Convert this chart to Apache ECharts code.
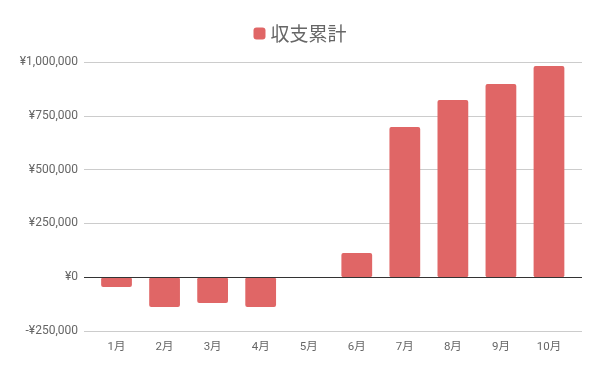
<!DOCTYPE html>
<html><head><meta charset="utf-8">
<script src="https://cdn.jsdelivr.net/npm/echarts@6/dist/echarts.min.js"></script>
<style>html,body{margin:0;padding:0;background:#fff}#c{width:600px;height:371px}</style>
</head><body><div id="c"></div>
<script>
const categories = ['1月','2月','3月','4月','5月','6月','7月','8月','9月','10月'];
const seriesName = '収支累計';
const values = [-45000, -138000, -120000, -138000, -2000, 112000, 698000, 823000, 898000, 981000];
const yMin = -250000, yMax = 1000000, yStep = 250000;

function fmt(v){
  const s = Math.abs(v).toString().replace(/\B(?=(\d{3})+(?!\d))/g, ',');
  return (v < 0 ? '-' : '') + '¥' + s;
}
const chart = echarts.init(document.getElementById('c'), null, {renderer:'canvas'});
chart.setOption({
  animation:false,
  textStyle:{fontFamily:'Roboto, "Noto Sans CJK JP", sans-serif'},
  legend:{
    top:19, left:'center', itemWidth:12, itemHeight:12, itemGap:8,
    icon:'roundRect',
    textStyle:{fontSize:19, color:'#666', fontFamily:'"Noto Sans CJK JP", sans-serif'},
    data:[seriesName]
  },
  grid:[
    {left:84, right:18, top:62, bottom:40},
    {left:92.5, right:27, top:62, bottom:40}
  ],
  xAxis:[
    {gridIndex:0, type:'category', data:categories, show:false},
    {gridIndex:1, type:'category', data:categories,
     axisLine:{show:false}, axisTick:{show:false},
     axisLabel:{color:'#666', fontSize:11.5, margin:10, fontFamily:'Roboto, "Noto Sans CJK JP", sans-serif'}}
  ],
  yAxis:[
    {gridIndex:0, type:'value', min:yMin, max:yMax, interval:yStep,
     axisLine:{show:false}, axisTick:{show:false},
     splitLine:{lineStyle:{color:'#cccccc', width:1}},
     axisLabel:{color:'#666', fontSize:12, margin:6, formatter:fmt}},
    {gridIndex:1, type:'value', min:yMin, max:yMax, interval:yStep, show:false,
     splitLine:{show:false}}
  ],
  series:[
    {
      type:'line', xAxisIndex:0, yAxisIndex:0, data:[], silent:true,
      markLine:{
        silent:true, symbol:'none', label:{show:false},
        lineStyle:{color:'#333', width:1, type:'solid'},
        data:[{yAxis:0}]
      }
    },
    {
      name:seriesName, type:'bar', xAxisIndex:1, yAxisIndex:1, data:values, barWidth:'64%',
      itemStyle:{color:'#e06666', borderRadius:2}
    }
  ]
});
</script></body></html>
